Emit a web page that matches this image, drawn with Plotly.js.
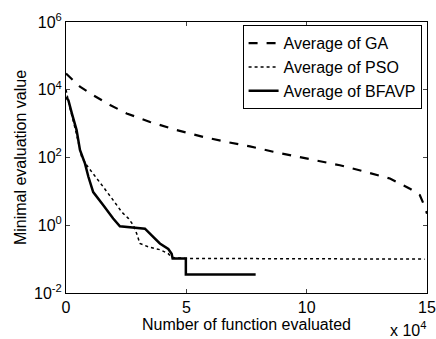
<!DOCTYPE html>
<html><head><meta charset="utf-8">
<script src="https://cdn.plot.ly/plotly-3.0.1.min.js"></script>
<style>body{margin:0;background:#fff}#c{width:436px;height:339px}</style>
</head><body><div id="c"></div>
<script>
// x values in units of 10^4 function evaluations
const gaX = [0, 0.58, 1.13, 1.83, 2.52, 3.49, 4.60, 5.70, 6.67, 7.64, 8.61, 10.0, 11.38, 12.49, 13.46, 14.29, 14.70, 14.91, 15.0];
const gaY = [30200, 12300, 6900, 3550, 2000, 1120, 646, 407, 288, 214, 148, 93, 59, 37, 24, 12, 7.8, 3.5, 2.2];

const psoX = [0, 0.15, 0.4, 0.65, 0.86, 1.13, 1.55, 1.96, 2.32, 2.59, 2.80, 2.94, 3.07, 3.42, 3.90, 4.25, 4.39, 4.98, 14.9];
const psoY = [10000, 3200, 630, 105, 59, 34, 13.5, 5.5, 2.45, 1.6, 1.0, 0.56, 0.29, 0.23, 0.19, 0.145, 0.112, 0.105, 0.1];

const bfX = [0, 0.10, 0.24, 0.44, 0.58, 0.79, 0.93, 1.13, 1.55, 1.96, 2.24, 2.73, 3.28, 3.56, 3.90, 4.25, 4.39, 4.43, 4.98, 4.98, 7.88];
const bfY = [6000, 4900, 2040, 646, 166, 66, 27, 9.5, 3.9, 1.58, 0.93, 0.85, 0.79, 0.50, 0.29, 0.20, 0.145, 0.105, 0.105, 0.035, 0.035];

const names = ['Average of GA', 'Average of PSO', 'Average of BFAVP'];
const xTicks = [0, 5, 10, 15];
const yTicks = [0.01, 1, 100, 10000, 1000000];
const yTickText = ['10<sup>-2</sup>', '10<sup>0</sup>', '10<sup>2</sup>', '10<sup>4</sup>', '10<sup>6</sup>'];

const font = {family: 'Liberation Sans, Arial, sans-serif', size: 16, color: '#000'};
const data = [
  {x: gaX, y: gaY, name: names[0], mode: 'lines', line: {color: '#000', width: 2.2, dash: 'dash'}},
  {x: psoX, y: psoY, name: names[1], mode: 'lines', line: {color: '#000', width: 1.5, dash: 'dot'}},
  {x: bfX, y: bfY, name: names[2], mode: 'lines', line: {color: '#000', width: 2.5}}
];
const layout = {
  width: 436, height: 339,
  margin: {l: 66, r: 9, t: 22, b: 46, pad: 0},
  paper_bgcolor: '#fff', plot_bgcolor: '#fff',
  font: font,
  showlegend: true,
  legend: {x: 0.985, y: 0.988, xanchor: 'right', yanchor: 'top', bgcolor: '#fff', bordercolor: '#000', borderwidth: 1,
           font: font, tracegroupgap: 0, itemwidth: 30},
  xaxis: {range: [0, 15], tickvals: xTicks, ticktext: xTicks.map(String), ticks: 'inside', ticklen: 4,
          showline: true, linecolor: '#000', linewidth: 1, mirror: 'ticks', showgrid: false, zeroline: false,
          title: {text: 'Number of function evaluated', font: font, standoff: 0}, tickfont: font},
  yaxis: {type: 'log', range: [-2, 6], tickvals: yTicks, ticktext: yTickText, ticks: 'inside', ticklen: 4,
          showline: true, linecolor: '#000', linewidth: 1, mirror: 'ticks', showgrid: false, zeroline: false,
          title: {text: 'Minimal evaluation value', font: font, standoff: 3}, tickfont: font},
  annotations: [{xref: 'paper', yref: 'paper', x: 0.947, y: -0.132, xanchor: 'center', yanchor: 'middle', showarrow: false,
                 text: 'x 10<sup>4</sup>', font: font}]
};
Plotly.newPlot('c', data, layout, {staticPlot: true});
</script></body></html>
